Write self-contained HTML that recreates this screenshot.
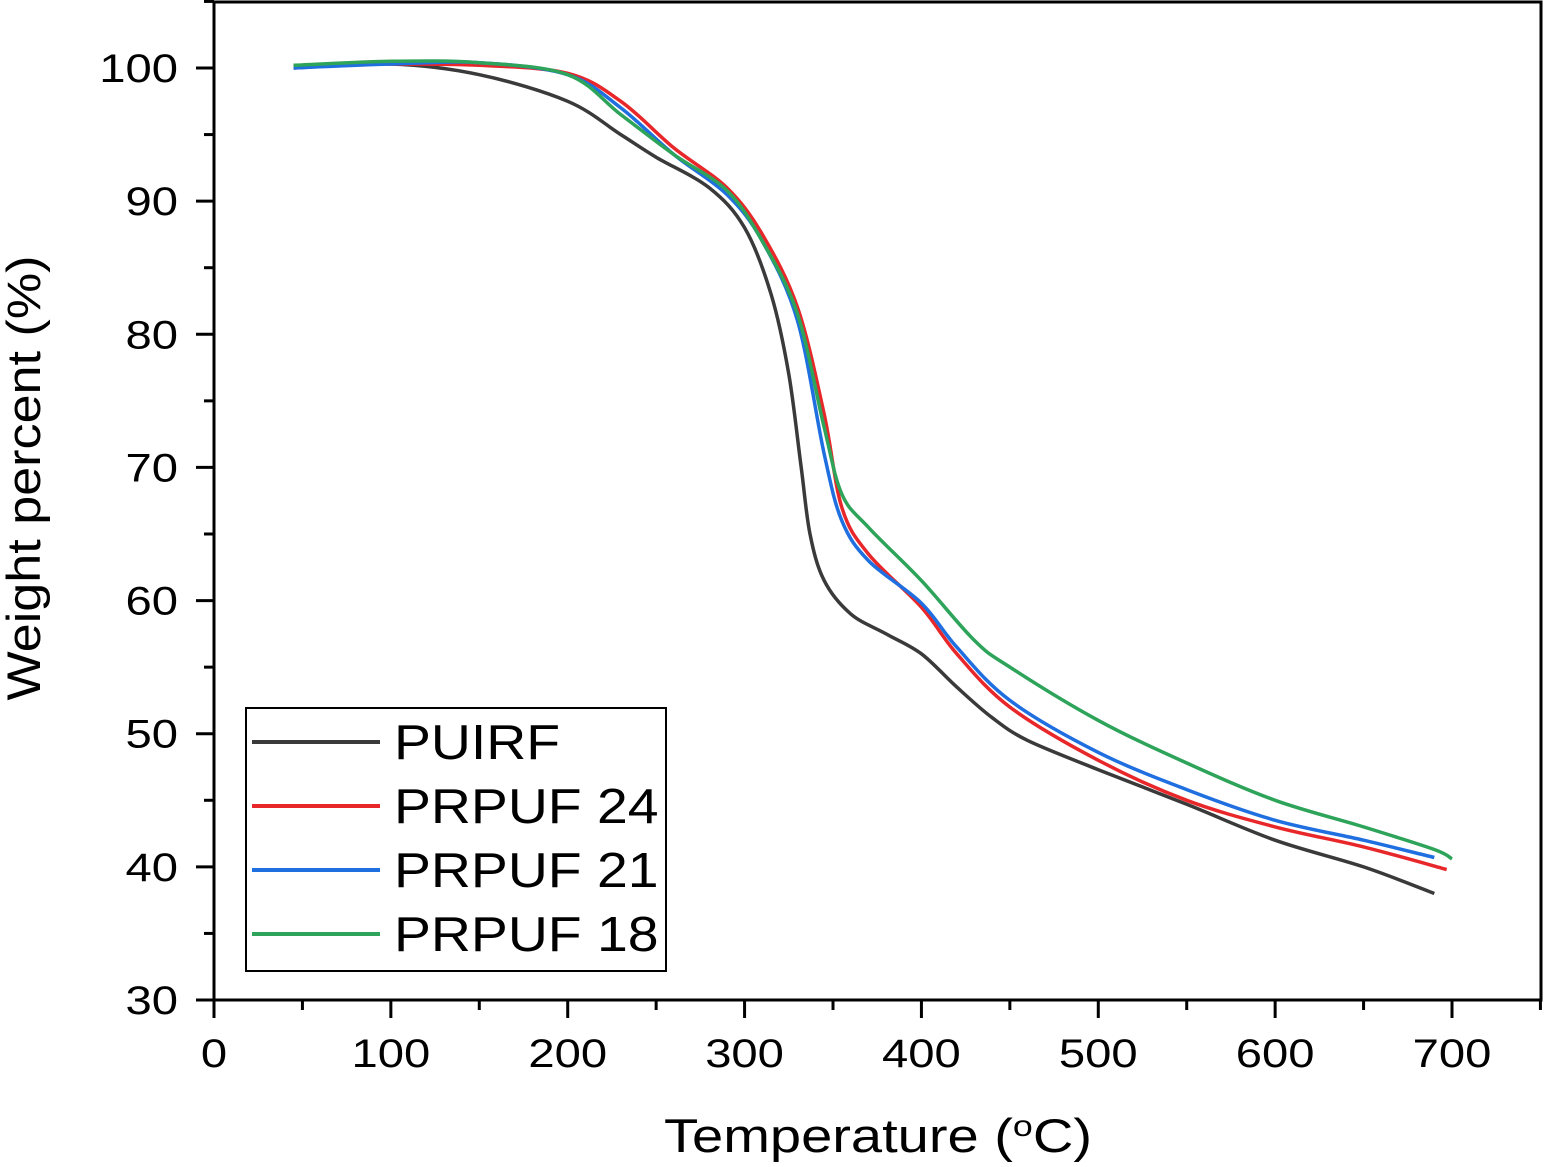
<!DOCTYPE html>
<html><head><meta charset="utf-8"><style>
html,body{margin:0;padding:0;background:#fff;}
svg text{font-family:"Liberation Sans",Arial,sans-serif;fill:#000;}
</style></head><body>
<svg id="chart" width="1544" height="1162" viewBox="0 0 1544 1162" xmlns="http://www.w3.org/2000/svg">
<g id="plot"></g>
<g id="axes"></g>
<text x="0" y="0" font-size="47" text-anchor="middle" textLength="445" lengthAdjust="spacingAndGlyphs" transform="translate(40,478) rotate(-90)">Weight percent (%)</text>
<text x="664" y="1152" font-size="47" textLength="428" lengthAdjust="spacingAndGlyphs">Temperature (<tspan font-size="30" dy="-16">o</tspan><tspan dy="16">C)</tspan></text>
<g id="legend"></g>
</svg>
<script>
const seriesNames=["PUIRF","PRPUF 24","PRPUF 21","PRPUF 18"];
const seriesColors=["#3a3a3a","#e8272a","#1f6fe0","#2ea35a"];
const tempPUIRF=[45,100,150,200,230,250,280,300,315,325,332,337,345,360,380,400,420,440,460,500,550,600,650,690];
const wPUIRF=[100,100.3,99.5,97.5,95,93.3,91,88,83,77,70,65,61.5,59,57.5,56,53.5,51.2,49.5,47.3,44.7,42,40,38];
const tempP24=[45,100,150,200,230,260,290,310,330,345,355,370,400,420,450,500,550,600,650,697];
const wP24=[100.2,100.3,100.2,99.6,97.5,94,91,87.5,82,74,67,63.5,59.5,56,52,48,45,43,41.5,39.8];
const tempP21=[45,100,150,200,230,260,290,310,330,345,355,370,400,420,450,500,550,600,650,690];
const wP21=[100,100.3,100.4,99.5,97,93.5,90.5,87,81,71,66,63,59.8,56.5,52.5,48.6,45.8,43.5,42,40.7];
const tempP18=[45,100,150,200,230,260,290,310,330,345,355,370,400,430,450,500,550,600,650,690,700];
const wP18=[100.2,100.5,100.4,99.5,96.5,93.5,90.8,87,81.5,73,68,65.5,61.5,57,55,51,47.8,45,43,41.3,40.6];
const xTicks=[0,100,200,300,400,500,600,700];
const yTicks=[30,40,50,60,70,80,90,100];

const X0=214,X1=1541,Y0=1000,YT=2;
const xs=v=>X0+v*(1452-214)/700;
const ys=v=>1000-(v-30)*(1000-68)/70;
const NS="http://www.w3.org/2000/svg";
function mk(tag,attrs,parent){const e=document.createElementNS(NS,tag);for(const k in attrs)e.setAttribute(k,attrs[k]);parent.appendChild(e);return e;}
function smooth(p){
  let d="M"+p[0][0].toFixed(1)+","+p[0][1].toFixed(1);
  for(let i=0;i<p.length-1;i++){
    const a=p[Math.max(0,i-1)],b=p[i],c=p[i+1],e=p[Math.min(p.length-1,i+2)];
    const c1=[b[0]+(c[0]-a[0])/6,b[1]+(c[1]-a[1])/6],c2=[c[0]-(e[0]-b[0])/6,c[1]-(e[1]-b[1])/6];
    d+=" C"+c1.map(v=>v.toFixed(1))+" "+c2.map(v=>v.toFixed(1))+" "+c[0].toFixed(1)+","+c[1].toFixed(1);
  }
  return d;
}
const plot=document.getElementById('plot'),axes=document.getElementById('axes'),legend=document.getElementById('legend');
const data=[[tempPUIRF,wPUIRF],[tempP24,wP24],[tempP21,wP21],[tempP18,wP18]];
data.forEach((d,i)=>{
  const pts=d[0].map((t,j)=>[xs(t),ys(d[1][j])]);
  const pl=mk('path',{d:smooth(pts),fill:'none',stroke:seriesColors[i],'stroke-width':3.5,'stroke-linejoin':'round'},plot);
  
  
});
const frame=mk('rect',{x:X0,y:YT,width:X1-X0,height:Y0-YT,fill:'none',stroke:'#000','stroke-width':3},axes);


for(let v=0;v<=750;v+=50){
  const major=v%100===0;
  mk('line',{x1:xs(v),x2:xs(v),y1:Y0,y2:Y0+(major?18:10),stroke:'#000','stroke-width':3},axes);
}
xTicks.forEach(v=>{
  const t=mk('text',{x:xs(v),y:1067,'font-size':40,'text-anchor':'middle',transform:'translate('+xs(v)+',0) scale(1.18,1) translate('+(-xs(v))+',0)'},axes);
  t.textContent=v;
  
  
});
for(let v=30;v<=105;v+=5){
  const major=v%10===0;
  mk('line',{x1:X0,x2:X0-(major?18:10),y1:ys(v),y2:ys(v),stroke:'#000','stroke-width':3},axes);
}
yTicks.forEach(v=>{
  const t=mk('text',{x:178,y:ys(v)+14,'font-size':40,'text-anchor':'end',transform:'translate(178,0) scale(1.18,1) translate(-178,0)'},axes);
  t.textContent=v;
  
  
});
const box=mk('rect',{x:246,y:708,width:420,height:263,fill:'#fff',stroke:'#000','stroke-width':2},legend);


seriesNames.forEach((n,i)=>{
  const y=742+i*64;
  const g=mk('g',{},legend);
  
  
  mk('line',{x1:252,x2:380,y1:y,y2:y,stroke:seriesColors[i],'stroke-width':4},g);
  const t=mk('text',{x:394,y:y+17,'font-size':49,transform:'translate(394,0) scale(1.13,1) translate(-394,0)'},g);
  t.textContent=n;
});
</script>
</body></html>
